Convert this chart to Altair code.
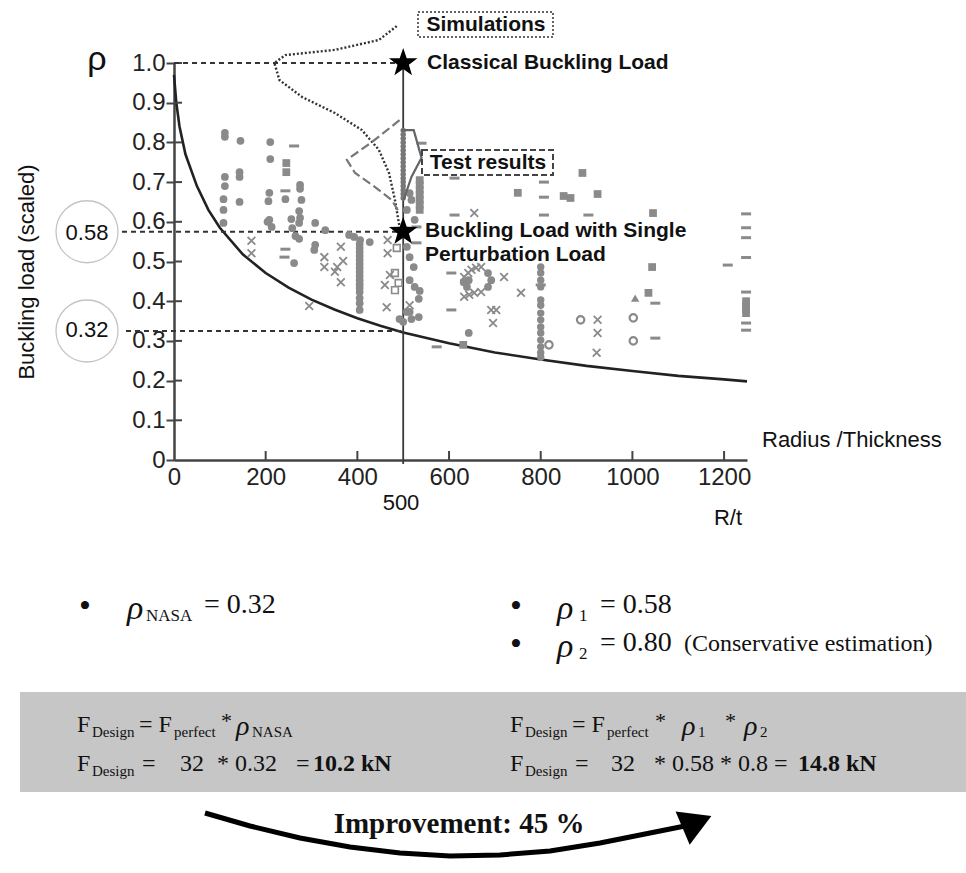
import altair as alt
import pandas as pd

# ------------------------------------------------------------------
# Values (R/t on x, rho on y)
# ------------------------------------------------------------------
CURVE_RT = [0, 5, 12, 25, 50, 75, 100, 150, 200, 250, 300, 350, 400, 450, 500,
            600, 700, 800, 900, 1000, 1100, 1200, 1250]
CURVE_RHO = [0.97, 0.90, 0.84, 0.77, 0.69, 0.63, 0.585, 0.518, 0.471, 0.434, 0.404,
             0.379, 0.357, 0.338, 0.321, 0.294, 0.271, 0.253, 0.237, 0.224, 0.212,
             0.203, 0.198]

DOT_RT = [111, 111, 145, 210, 210, 111, 111, 108, 108, 108, 143, 143, 143, 208, 206,
          243, 275, 275, 278, 273, 275, 273, 208, 213, 204, 256, 258, 265, 273, 308,
          308, 306, 262, 330, 382, 393, 406, 427,
          508, 514, 523, 514, 525, 536, 534, 514, 518, 534, 508, 492, 500,
          632, 639, 643, 643, 685, 692, 685, 514, 518, 508, 525]
DOT_RHO = [0.824, 0.814, 0.804, 0.801, 0.758, 0.713, 0.690, 0.657, 0.630, 0.597, 0.725,
           0.713, 0.650, 0.673, 0.652, 0.657, 0.693, 0.683, 0.655, 0.627, 0.610, 0.597,
           0.605, 0.587, 0.600, 0.607, 0.584, 0.564, 0.557, 0.597, 0.542, 0.529, 0.496,
           0.579, 0.567, 0.562, 0.554, 0.549,
           0.537, 0.511, 0.486, 0.453, 0.436, 0.426, 0.406, 0.373, 0.355, 0.360, 0.373,
           0.355, 0.348,
           0.448, 0.436, 0.320, 0.453, 0.471, 0.453, 0.436, 0.672, 0.655, 0.630, 0.605]

COL400_RT = 405
COL400_RHO = [0.544, 0.534, 0.524, 0.514, 0.504, 0.494, 0.484, 0.474, 0.464, 0.453,
              0.443, 0.433, 0.423, 0.408, 0.395, 0.378]
COL500_RT = 500
COL500_RHO = [0.83, 0.82, 0.81, 0.80, 0.79, 0.78, 0.77, 0.76, 0.75, 0.74, 0.73, 0.72,
              0.71, 0.70, 0.69, 0.68, 0.67, 0.66]
COL800_RT = 800
COL800_RHO = [0.486, 0.471, 0.453, 0.436, 0.403, 0.390, 0.370, 0.353, 0.335, 0.320,
              0.302, 0.285, 0.270, 0.259]

SQUARE_RT = [245, 245, 536, 536, 536, 536, 536, 536, 536, 891, 750, 850, 865, 924,
             1045, 1043, 1035, 631, 1248, 1248, 1248, 1248]
SQUARE_RHO = [0.748, 0.725, 0.705, 0.693, 0.680, 0.668, 0.655, 0.643, 0.630, 0.723,
              0.673, 0.665, 0.660, 0.670, 0.622, 0.486, 0.421, 0.290, 0.40, 0.39,
              0.38, 0.37]

OPEN_SQ_RT = [482, 482, 486, 490]
OPEN_SQ_RHO = [0.471, 0.428, 0.534, 0.446]

CROSS_RT = [169, 169, 295, 328, 328, 356, 369, 351, 364, 364, 466, 466, 471, 460, 464,
            514, 633, 649, 670, 642, 659, 633, 644, 655, 670, 720, 757, 692, 703, 696,
            655, 924, 924, 922]
CROSS_RHO = [0.552, 0.521, 0.388, 0.511, 0.486, 0.486, 0.501, 0.474, 0.448, 0.537,
             0.554, 0.521, 0.466, 0.441, 0.385, 0.390, 0.461, 0.479, 0.486, 0.471,
             0.484, 0.411, 0.416, 0.421, 0.423, 0.461, 0.421, 0.378, 0.378, 0.345,
             0.622, 0.353, 0.320, 0.270]

DASH_RT = [262, 243, 243, 241, 540, 612, 807, 807, 612, 807, 904, 529, 529, 605, 605,
           573, 800, 1050, 1050, 1208, 1248, 1248, 1248, 1248, 1248, 1248, 1248]
DASH_RHO = [0.791, 0.678, 0.531, 0.511, 0.798, 0.710, 0.700, 0.662, 0.617, 0.617,
            0.617, 0.587, 0.547, 0.471, 0.378, 0.285, 0.441, 0.395, 0.307, 0.491,
            0.62, 0.585, 0.56, 0.51, 0.423, 0.345, 0.327]

OPEN_CIRC_RT = [818, 887, 1002, 1002]
OPEN_CIRC_RHO = [0.290, 0.353, 0.300, 0.358]

TRI_RT = [1006]
TRI_RHO = [0.408]

# distributions drawn sideways near R/t = 500
SIM_RT = [486, 447, 351, 243, 219, 230, 280, 351, 410, 447, 469, 482, 492]
SIM_RHO = [1.093, 1.058, 1.033, 1.020, 1.000, 0.957, 0.914, 0.874, 0.831, 0.781,
           0.723, 0.655, 0.587]
TEST_RT = [492, 432, 377, 395, 438, 475, 492]
TEST_RHO = [0.856, 0.801, 0.756, 0.723, 0.688, 0.655, 0.622]
HIST_RT = [497, 523, 540, 518, 501]
HIST_RHO = [0.831, 0.831, 0.761, 0.713, 0.655]

X_TICKS = [0, 200, 400, 600, 800, 1000, 1200]
Y_TICKS = [0, 0.1, 0.2, 0.3, 0.4, 0.5, 0.6, 0.7, 0.8, 0.9, 1.0]

RHO_CLASSIC = 1.0
RHO_SPLA = 0.575
RHO_NASA = 0.325
RT_DESIGN = 500

# ------------------------------------------------------------------
# Layout helpers (pixel frame of the 966x873 picture)
# ------------------------------------------------------------------
X0, W = 174.0, 573
SX = W / 1250.0
Y0, SY = 460.0, 397.0
H = 397


def dx(px):
    return (px - X0) / SX


def dy(py):
    return (Y0 - py) / SY


SANS = "Liberation Sans"
SERIF = "Liberation Serif"
GRAY = "#8a8a8a"
XS = alt.Scale(domain=[0, 1250], nice=False, zero=False)
YS = alt.Scale(domain=[0, 1], nice=False, zero=False)
XAXIS = alt.Axis(values=X_TICKS, title=None, grid=False, ticks=False, labelFlush=False,
                 format="d", labelOverlap=False, labelFontSize=24, labelFont=SANS,
                 labelColor="#222", labelPadding=5, domainColor="#444", domainWidth=2.5)
YAXIS = alt.Axis(values=Y_TICKS, title=None, grid=False, tickSize=8, tickWidth=2,
                 tickColor="#444",
                 labelExpr="datum.value == 0 ? '0' : format(datum.value, '.1f')",
                 labelFontSize=24, labelFont=SANS, labelColor="#222", labelPadding=1,
                 labelOverlap=False, domainColor="#444", domainWidth=2.5)


def X(f="x"):
    return alt.X(f"{f}:Q", scale=XS, axis=XAXIS)


def Y(f="y"):
    return alt.Y(f"{f}:Q", scale=YS, axis=YAXIS)


def pts(rt, rho, shape, size, filled, color=GRAY, sw=1.6):
    df = pd.DataFrame({"x": rt, "y": rho})
    return alt.Chart(df).mark_point(shape=shape, size=size, filled=filled, color=color,
                                    strokeWidth=sw, opacity=1, clip=False).encode(x=X(), y=Y())


def line(rt, rho, color, width, dash=None):
    df = pd.DataFrame({"x": rt, "y": rho, "i": list(range(len(rt)))})
    kw = dict(color=color, strokeWidth=width, clip=False)
    if dash:
        kw["strokeDash"] = dash
    return alt.Chart(df).mark_line(**kw).encode(x=X(), y=Y(), order="i:Q")


layers = []

# grey band behind the formulas
band = pd.DataFrame({"x": [dx(20)], "x2": [dx(966)], "y": [dy(692)], "y2": [dy(792)]})
layers.append(alt.Chart(band).mark_rect(color="#c6c6c6", clip=False).encode(
    x=X(), x2="x2:Q", y=Y(), y2="y2:Q"))

# knock-down curve
layers.append(line(CURVE_RT, CURVE_RHO, "#222", 2.6))

# inward tick halves
yt = pd.DataFrame({"y": Y_TICKS[1:], "x": [0] * 10, "x2": [8 / SX] * 10})
layers.append(alt.Chart(yt).mark_rule(color="#444", strokeWidth=2, clip=False).encode(
    x=X(), x2="x2:Q", y=Y()))
xt = pd.DataFrame({"x": X_TICKS[1:], "y": [0] * 6, "y2": [9 / SY] * 6})
layers.append(alt.Chart(xt).mark_rule(color="#444", strokeWidth=2, clip=False).encode(
    x=X(), y=Y(), y2="y2:Q"))

# reference dashed lines and vertical design line
ref = pd.DataFrame({"y": [RHO_CLASSIC, RHO_SPLA, RHO_NASA], "x": [0, dx(122), dx(126)],
                    "x2": [RT_DESIGN] * 3})
layers.append(alt.Chart(ref).mark_rule(color="#333", strokeWidth=1.8, strokeDash=[5, 4],
                                       clip=False).encode(x=X(), x2="x2:Q", y=Y()))
vl = pd.DataFrame({"x": [RT_DESIGN], "y": [-0.01], "y2": [RHO_CLASSIC]})
layers.append(alt.Chart(vl).mark_rule(color="#3a3a3a", strokeWidth=1.8, clip=False).encode(
    x=X(), y=Y(), y2="y2:Q"))

# scatter of test data
CROSS = "M-1,-1L1,1M-1,1L1,-1"
DASH = "M-1,-0.3L1,-0.3L1,0.3L-1,0.3Z"
layers.append(pts(DOT_RT, DOT_RHO, "circle", 60, True))
layers.append(pts([COL400_RT] * len(COL400_RHO), COL400_RHO, "circle", 60, True))
layers.append(pts([COL800_RT] * len(COL800_RHO), COL800_RHO, "circle", 55, True))
layers.append(pts([COL500_RT] * len(COL500_RHO), COL500_RHO, "circle", 30, True, "#777"))
layers.append(pts(SQUARE_RT, SQUARE_RHO, "square", 60, True))
layers.append(pts(OPEN_SQ_RT, OPEN_SQ_RHO, "square", 45, False, GRAY, 1.6))
layers.append(pts(CROSS_RT, CROSS_RHO, CROSS, 60, False, GRAY, 1.8))
layers.append(pts(DASH_RT, DASH_RHO, DASH, 100, True))
layers.append(pts(OPEN_CIRC_RT, OPEN_CIRC_RHO, "circle", 55, False, GRAY, 2.2))
layers.append(pts(TRI_RT, TRI_RHO, "triangle-up", 70, True))

# sideways distributions
layers.append(line(SIM_RT, SIM_RHO, "#333", 2.4, [2, 2]))
layers.append(line(TEST_RT, TEST_RHO, "#777", 2.2, [9, 4]))
layers.append(line(HIST_RT, HIST_RHO, "#666", 2.2))

# stars
STAR = ("M0,-1L0.235,-0.324L0.951,-0.309L0.38,0.124L0.588,0.809L0,0.4L-0.588,0.809"
        "L-0.38,0.124L-0.951,-0.309L-0.235,-0.324Z")
layers.append(pts([RT_DESIGN, RT_DESIGN], [RHO_CLASSIC, RHO_SPLA], STAR, 900, True, "#000"))

# label boxes
boxes = pd.DataFrame({"x": [dx(418)], "x2": [dx(553)], "y": [dy(12)], "y2": [dy(37)]})
layers.append(alt.Chart(boxes).mark_rect(fillOpacity=0, stroke="#333", strokeWidth=1.5,
                                         strokeDash=[2, 2], clip=False).encode(
    x=X(), x2="x2:Q", y=Y(), y2="y2:Q"))
boxes2 = pd.DataFrame({"x": [dx(422)], "x2": [dx(553)], "y": [dy(150)], "y2": [dy(175)]})
layers.append(alt.Chart(boxes2).mark_rect(fillOpacity=0, stroke="#444", strokeWidth=2,
                                          strokeDash=[6, 3], clip=False).encode(
    x=X(), x2="x2:Q", y=Y(), y2="y2:Q"))

# circled values
circ = pd.DataFrame({"x": [dx(87), dx(87)], "y": [RHO_SPLA, RHO_NASA]})
layers.append(alt.Chart(circ).mark_point(shape="circle", size=3844, filled=False,
                                         color="#c4c4c4", strokeWidth=1.3, opacity=1,
                                         clip=False).encode(x=X(), y=Y()))

# improvement arrow
ARROW_PX = [205, 250, 300, 350, 400, 450, 500, 550, 600, 650, 690]
ARROW_PY = [813, 826, 838, 847, 853, 856, 855, 851, 843, 833, 825]
layers.append(line([dx(p) for p in ARROW_PX], [dy(p) for p in ARROW_PY], "#000", 5))
head = pd.DataFrame({"x": [dx(697)], "y": [dy(822)]})
layers.append(alt.Chart(head).mark_point(shape="triangle-right", size=1300, filled=True,
                                         color="#000", opacity=1, angle=337,
                                         clip=False).encode(x=X(), y=Y()))

# ------------------------------------------------------------------
# Texts: (text, px, py, size, font, weight, style, align, angle)
# ------------------------------------------------------------------
N, B, I = "normal", "bold", "italic"
TEXTS = [
    ("ρ", 97, 60, 34, SANS, N, N, "center", 0),
    ("Buckling load (scaled)", 27, 272, 22, SANS, N, N, "center", 270),
    ("0.58", 87, 233, 22, SANS, N, N, "center", 0),
    ("0.32", 87, 330, 22, SANS, N, N, "center", 0),
    ("Simulations", 486, 25, 21, SANS, B, N, "center", 0),
    ("Classical Buckling Load", 427, 63, 21, SANS, B, N, "left", 0),
    ("Test results", 488, 163, 21, SANS, B, N, "center", 0),
    ("Buckling Load with Single", 425, 231, 21, SANS, B, N, "left", 0),
    ("Perturbation Load", 425, 255, 21, SANS, B, N, "left", 0),
    ("Radius /Thickness", 762, 440, 22, SANS, N, N, "left", 0),
    ("500", 401, 503, 22, SANS, N, N, "center", 0),
    ("R/t", 728, 518, 22, SANS, N, N, "center", 0),
    # bullets
    ("•", 85, 607, 34, SERIF, N, N, "center", 0),
    ("ρ", 127, 609, 34, SERIF, N, I, "left", 0),
    ("NASA", 146, 616, 17, SERIF, N, N, "left", 0),
    ("= 0.32", 204, 605, 28, SERIF, N, N, "left", 0),
    ("•", 516, 607, 34, SERIF, N, N, "center", 0),
    ("ρ", 557, 609, 34, SERIF, N, I, "left", 0),
    ("1", 579, 616, 17, SERIF, N, N, "left", 0),
    ("= 0.58", 600, 605, 28, SERIF, N, N, "left", 0),
    ("•", 516, 645, 34, SERIF, N, N, "center", 0),
    ("ρ", 557, 647, 34, SERIF, N, I, "left", 0),
    ("2", 579, 654, 17, SERIF, N, N, "left", 0),
    ("= 0.80", 600, 643, 28, SERIF, N, N, "left", 0),
    ("(Conservative estimation)", 684, 644, 24, SERIF, N, N, "left", 0),
    # formulas, left
    ("F", 77, 725, 24, SERIF, N, N, "left", 0),
    ("Design", 92, 732, 15, SERIF, N, N, "left", 0),
    ("= F", 139, 725, 24, SERIF, N, N, "left", 0),
    ("perfect", 174, 732, 15, SERIF, N, N, "left", 0),
    ("*", 221, 721, 22, SERIF, N, N, "left", 0),
    ("ρ", 236, 727, 28, SERIF, N, I, "left", 0),
    ("NASA", 252, 732, 15, SERIF, N, N, "left", 0),
    ("F", 77, 764, 24, SERIF, N, N, "left", 0),
    ("Design", 92, 771, 15, SERIF, N, N, "left", 0),
    ("=", 142, 764, 24, SERIF, N, N, "left", 0),
    ("32", 180, 764, 24, SERIF, N, N, "left", 0),
    ("* 0.32", 217, 764, 24, SERIF, N, N, "left", 0),
    ("=", 296, 764, 24, SERIF, N, N, "left", 0),
    ("10.2 kN", 313, 764, 24, SERIF, B, N, "left", 0),
    # formulas, right
    ("F", 510, 725, 24, SERIF, N, N, "left", 0),
    ("Design", 525, 732, 15, SERIF, N, N, "left", 0),
    ("= F", 572, 725, 24, SERIF, N, N, "left", 0),
    ("perfect", 607, 732, 15, SERIF, N, N, "left", 0),
    ("*", 655, 721, 22, SERIF, N, N, "left", 0),
    ("ρ", 682, 727, 28, SERIF, N, I, "left", 0),
    ("1", 698, 732, 15, SERIF, N, N, "left", 0),
    ("*", 725, 721, 22, SERIF, N, N, "left", 0),
    ("ρ", 744, 727, 28, SERIF, N, I, "left", 0),
    ("2", 760, 732, 15, SERIF, N, N, "left", 0),
    ("F", 510, 764, 24, SERIF, N, N, "left", 0),
    ("Design", 525, 771, 15, SERIF, N, N, "left", 0),
    ("=", 575, 764, 24, SERIF, N, N, "left", 0),
    ("32", 611, 764, 24, SERIF, N, N, "left", 0),
    ("* 0.58 * 0.8 =", 654, 764, 24, SERIF, N, N, "left", 0),
    ("14.8 kN", 798, 764, 24, SERIF, B, N, "left", 0),
    ("Improvement: 45 %", 459, 824, 29, SERIF, B, N, "center", 0),
]
tdf = pd.DataFrame(TEXTS, columns=["label", "px", "py", "size", "font", "weight", "style",
                                   "align", "angle"])
tdf["x"] = tdf["px"].map(dx)
tdf["y"] = tdf["py"].map(dy)
for (font, weight, style, align), g in tdf.groupby(["font", "weight", "style", "align"]):
    layers.append(alt.Chart(g.drop(columns=["font", "weight", "style", "align"])).mark_text(
        font=font, fontWeight=weight, fontStyle=style, align=align, baseline="middle",
        color="#111", clip=False).encode(
        x=X(), y=Y(), text="label:N",
        size=alt.Size("size:Q", scale=None, legend=None),
        angle=alt.Angle("angle:Q", scale=None)))

chart = alt.layer(*layers).properties(
    width=W, height=H,
    autosize=alt.AutoSizeParams(type="none"),
    padding={"left": int(X0), "top": 63, "right": 966 - int(X0) - W, "bottom": 873 - 460},
    background="white",
).configure_view(strokeWidth=0)

chart.save("out.html", embed_options={"renderer": "svg", "actions": False})
